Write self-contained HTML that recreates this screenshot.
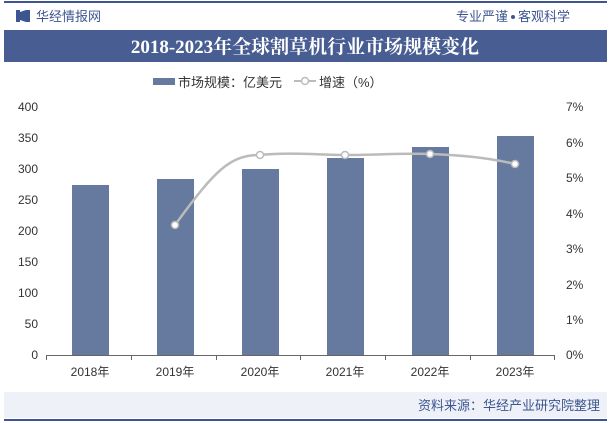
<html><head><style>body{margin:0;width:611px;height:423px;background:#fff;font-family:"Liberation Sans","Noto Sans CJK SC",sans-serif;overflow:hidden}</style></head><body>
<svg width="611" height="423" xmlns="http://www.w3.org/2000/svg" font-family="Liberation Sans, Noto Sans CJK SC, sans-serif">
<rect x="4" y="1" width="603" height="2" fill="#3d5590"/>
<rect x="16" y="10" width="4" height="12" fill="#3d5590"/><rect x="26" y="10" width="4" height="12" fill="#3d5590"/><polygon points="20,12 26,10 26,22 20,20" fill="#3d5590"/>
<text x="36" y="21" font-size="13" fill="#3d5590">华经情报网</text>
<text x="508" y="21" font-size="13" fill="#3d5590" text-anchor="end">专业严谨</text>
<circle cx="513" cy="17" r="2" fill="#3d5590"/>
<text x="518" y="21" font-size="13" fill="#3d5590">客观科学</text>
<rect x="4" y="30" width="603" height="32" fill="#485d92"/>
<text x="305" y="53" font-size="19" font-weight="bold" fill="#fff" text-anchor="middle" font-family="Liberation Serif, Noto Serif CJK SC, serif">2018-2023年全球割草机行业市场规模变化</text>
<rect x="153" y="78" width="22" height="7" fill="#66799f"/>
<text x="178" y="87" font-size="13" fill="#333">市场规模：亿美元</text>
<line x1="294" y1="81" x2="316" y2="81" stroke="#bbb" stroke-width="2"/><circle cx="305" cy="81" r="3.5" fill="#fff" stroke="#bbb" stroke-width="1.5"/>
<text x="319" y="87" font-size="13" fill="#333">增速（%）</text>
<g font-size="12" fill="#333" text-anchor="end">
<text x="38" y="111">400</text><text x="38" y="142">350</text><text x="38" y="173">300</text><text x="38" y="204">250</text><text x="38" y="235">200</text><text x="38" y="266">150</text><text x="38" y="297">100</text><text x="38" y="328">50</text><text x="38" y="359">0</text>
</g>
<g font-size="12" fill="#333">
<text x="566" y="111">7%</text><text x="566" y="147">6%</text><text x="566" y="182">5%</text><text x="566" y="218">4%</text><text x="566" y="253">3%</text><text x="566" y="289">2%</text><text x="566" y="324">1%</text><text x="566" y="359">0%</text>
</g>
<g stroke="#666" stroke-width="1">
<line x1="46" y1="355.5" x2="554" y2="355.5"/>
<line x1="46.5" y1="355" x2="46.5" y2="360"/><line x1="131.5" y1="355" x2="131.5" y2="360"/><line x1="216.5" y1="355" x2="216.5" y2="360"/><line x1="300.5" y1="355" x2="300.5" y2="360"/><line x1="385.5" y1="355" x2="385.5" y2="360"/><line x1="470.5" y1="355" x2="470.5" y2="360"/><line x1="554.5" y1="355" x2="554.5" y2="360"/>
</g>
<g fill="#66799f">
<rect x="72" y="185" width="37" height="170"/><rect x="157" y="179" width="37" height="176"/><rect x="242" y="169" width="37" height="186"/><rect x="327" y="158" width="37" height="197"/><rect x="412" y="147" width="37" height="208"/><rect x="497" y="136" width="37" height="219"/>
</g>
<path d="M175,225 C215,170 230,155 260,155 C290,152 320,155 345,155 C380,155 400,153 430,154 C460,155 490,158 515,164" fill="none" stroke="#bbb" stroke-width="2.5"/>
<g fill="#fff" stroke="#bbb" stroke-width="1.5">
<circle cx="175" cy="225" r="3.5"/><circle cx="260" cy="155" r="3.5"/><circle cx="345" cy="155" r="3.5"/><circle cx="430" cy="154" r="3.5"/><circle cx="515" cy="164" r="3.5"/>
</g>
<g font-size="12" fill="#333" text-anchor="middle">
<text x="90" y="376">2018年</text><text x="175" y="376">2019年</text><text x="260" y="376">2020年</text><text x="345" y="376">2021年</text><text x="430" y="376">2022年</text><text x="515" y="376">2023年</text>
</g>
<rect x="4" y="392" width="603" height="26" fill="#eef2f8"/>
<text x="600" y="410" font-size="13" fill="#3d5590" text-anchor="end">资料来源：华经产业研究院整理</text>
<rect x="4" y="419" width="603" height="2" fill="#3d5590"/>
</svg>
</body></html>
